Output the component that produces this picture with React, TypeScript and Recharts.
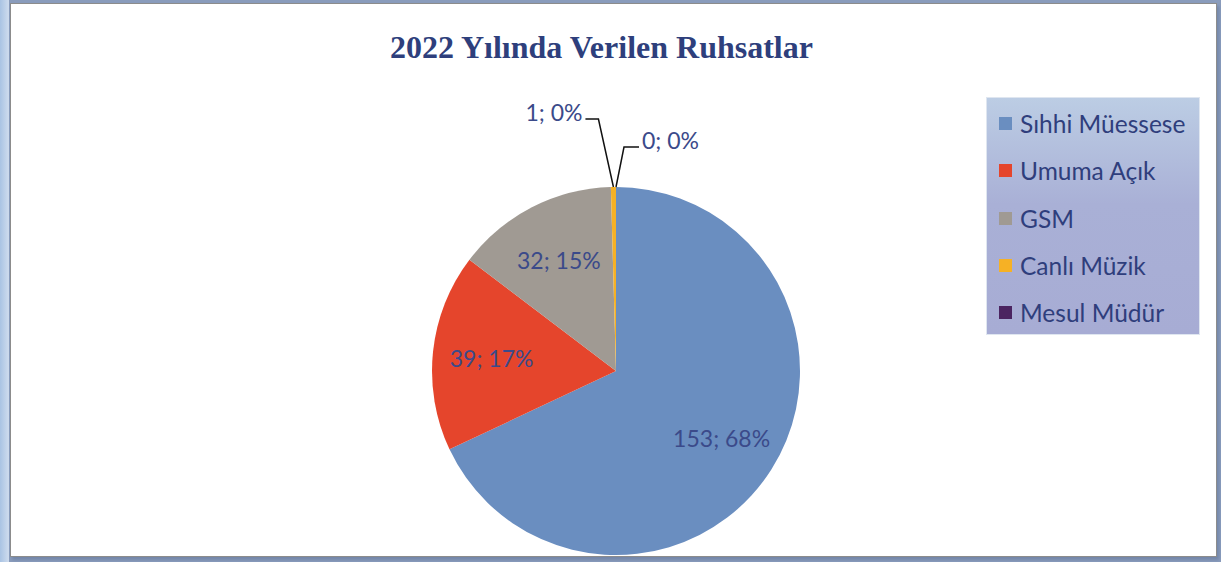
import { Cell, Legend, Pie, PieChart } from "recharts"

// Ruhsat counts per category (2022)
const categories = ["Sıhhi Müessese", "Umuma Açık", "GSM", "Canlı Müzik", "Mesul Müdür"]
const counts = [153, 39, 32, 1, 0]
const shownShares = [68, 17, 15, 0, 0]
const colors = ["#6a8ec0", "#e5452c", "#a09a93", "#f6b125", "#4b2461"]

const data = categories.map((name, i) => ({ name, value: counts[i], share: shownShares[i] }))

const RAD = Math.PI / 180
const labelColor = "#3b4a8a"
const labelFont = "Lato, 'Open Sans', sans-serif"

const renderLabel = (props: any) => {
  const { cx, cy, midAngle, outerRadius, index } = props
  const d = data[index]
  const text = `${d.value}; ${d.share}%`
  const cos = Math.cos(-midAngle * RAD)
  const sin = Math.sin(-midAngle * RAD)

  if (d.share >= 5) {
    const r = outerRadius * 0.68
    return (
      <text
        x={cx + r * cos}
        y={cy + r * sin}
        fill={labelColor}
        fontSize={23}
        fontFamily={labelFont}
        textAnchor="middle"
        dominantBaseline="central"
      >
        {text}
      </text>
    )
  }

  // tiny slices: leader line going up from the rim
  const sx = cx + outerRadius * cos
  const sy = cy + outerRadius * sin
  const left = index === 3
  const ex = left ? sx - 15 : sx + 8
  const ey = left ? sy - 68 : sy - 40
  const hx = left ? ex - 13 : ex + 15
  return (
    <g>
      <polyline points={`${sx},${sy} ${ex},${ey} ${hx},${ey}`} fill="none" stroke="#111" strokeWidth={1.5} />
      <text
        x={left ? hx - 3 : hx + 3}
        y={ey - 7}
        fill={labelColor}
        fontSize={23}
        fontFamily={labelFont}
        textAnchor={left ? "end" : "start"}
        dominantBaseline="central"
      >
        {text}
      </text>
    </g>
  )
}

const renderLegend = () => (
  <div
    style={{
      width: 214,
      height: 238,
      boxSizing: "border-box",
      border: "1px solid #dfe6f0",
      background: "linear-gradient(to bottom, #bccde4 0%, #a9b0d6 45%, #a7acd4 100%)",
      padding: "2px 0 0 12px",
      fontFamily: labelFont,
    }}
  >
    {data.map((d, i) => (
      <div key={d.name} style={{ display: "flex", alignItems: "center", height: 47.3 }}>
        <span style={{ width: 13, height: 13, background: colors[i], marginRight: 8 }} />
        <span style={{ fontSize: 24.5, color: "#2f3e7c" }}>{d.name}</span>
      </div>
    ))}
  </div>
)

export default function App() {
  return (
    <div
      style={{
        position: "absolute",
        left: 0,
        top: 0,
        width: 1221,
        height: 562,
        background: "linear-gradient(to right, #a9c3e3 0px, #cfdcee 9px, #8a9cbc 9px)",
        overflow: "hidden",
      }}
    >
      <div
        style={{
          position: "absolute",
          left: 10,
          top: 3,
          width: 1205,
          height: 552,
          background: "#fff",
          border: "1px solid #8c8c8c",
          boxShadow: "2px 3px 3px #7387a9",
        }}
      />
      <div
        style={{
          position: "absolute",
          left: 10,
          top: 29,
          width: 1183,
          textAlign: "center",
          fontFamily: "'Liberation Serif', 'Times New Roman', serif",
          fontWeight: "bold",
          fontSize: 32,
          color: "#2e3f7c",
        }}
      >
        2022 Yılında Verilen Ruhsatlar
      </div>
      <div style={{ position: "absolute", left: 0, top: 0 }}>
        <PieChart width={1221} height={562} margin={{ top: 0, right: 0, bottom: 0, left: 0 }}>
          <Pie
            data={data}
            dataKey="value"
            nameKey="name"
            cx={616}
            cy={371}
            outerRadius={184}
            startAngle={90}
            endAngle={-270}
            stroke="none"
            label={renderLabel}
            labelLine={false}
            isAnimationActive={false}
          >
            {data.map((d, i) => (
              <Cell key={d.name} fill={colors[i]} />
            ))}
          </Pie>
          <Legend
            layout="vertical"
            align="right"
            verticalAlign="top"
            content={renderLegend}
            wrapperStyle={{ position: "absolute", left: 986, top: 97, width: 214 }}
          />
        </PieChart>
      </div>
    </div>
  )
}
